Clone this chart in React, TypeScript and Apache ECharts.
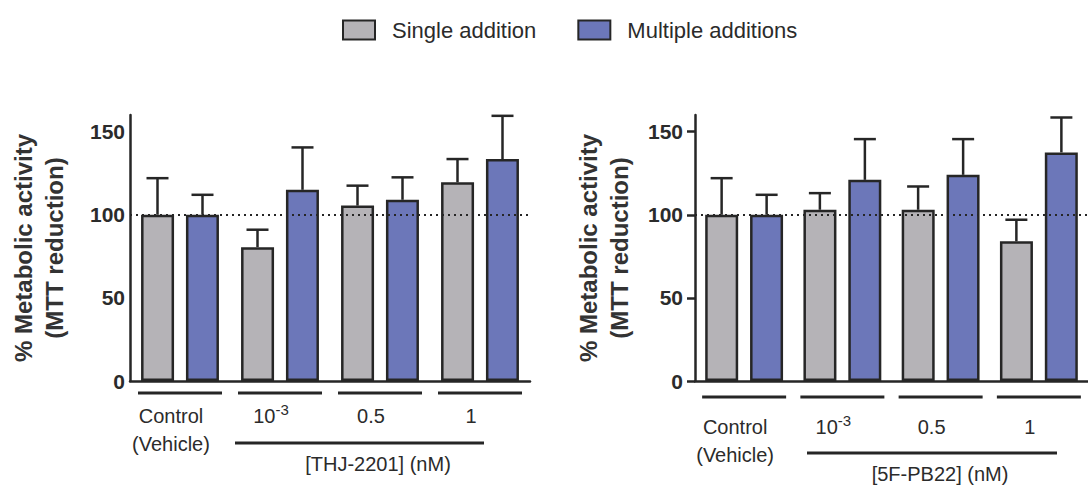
import React, { useEffect, useRef } from 'react';
import * as echarts from 'echarts';

const categories = ['Control\n(Vehicle)', '10^-3', '0.5', '1'];
const seriesNames = ['Single addition', 'Multiple additions'];
// THJ-2201 panel: bar means and upper ends of error bars
const thjSingle = [100, 80.5, 105.5, 119.5];
const thjSingleUpper = [122, 91, 117.5, 133.5];
const thjMultiple = [100, 115, 109, 133.5];
const thjMultipleUpper = [112, 140.5, 122.5, 159.5];
// 5F-PB22 panel
const pbSingle = [100, 103, 103, 84];
const pbSingleUpper = [122, 113, 117, 97];
const pbMultiple = [100, 121, 124, 137.5];
const pbMultipleUpper = [112, 145.5, 145.5, 158.5];
const yTicks = [0, 50, 100, 150];
const referenceLevel = 100;
const compoundLabels = ['[THJ-2201] (nM)', '[5F-PB22] (nM)'];
const yAxisTitle = '% Metabolic activity\n(MTT reduction)';

const FONT = '"Liberation Sans", Arial, Helvetica, sans-serif';
const DARK = '#262626';
const TEXT = '#2b2b2b';
const GRAY = '#b5b3b7';
const BLUE = '#6c77b9';
const BAR_OFFSET = 22.5;

function errorSeries(axisIdx: number, values: number[], upper: number[], offset: number) {
  return {
    type: 'custom',
    xAxisIndex: axisIdx,
    yAxisIndex: axisIdx,
    silent: true,
    z: 3,
    data: values.map((v, i) => [i, v, upper[i]]),
    encode: { x: 0, y: [1, 2] },
    renderItem: (_p: any, api: any) => {
      const base = api.coord([api.value(0), api.value(1)]);
      const top = api.coord([api.value(0), api.value(2)]);
      const x = base[0] + offset;
      const st = { stroke: DARK, lineWidth: 2.5 };
      return {
        type: 'group',
        children: [
          { type: 'line', shape: { x1: x, y1: base[1], x2: x, y2: top[1] }, style: st },
          { type: 'line', shape: { x1: x - 11, y1: top[1], x2: x + 11, y2: top[1] }, style: st },
        ],
      };
    },
  };
}

function underlineSeries(axisIdx: number, dy: number) {
  return {
    type: 'custom',
    xAxisIndex: axisIdx,
    yAxisIndex: axisIdx,
    silent: true,
    data: categories.map((_c, i) => [i, 0]),
    renderItem: (_p: any, api: any) => {
      const c = api.coord([api.value(0), 0]);
      return {
        type: 'line',
        shape: { x1: c[0] - 42, y1: c[1] + dy, x2: c[0] + 42, y2: c[1] + dy },
        style: { stroke: DARK, lineWidth: 3 },
      };
    },
  };
}

function barSeries(name: string, axisIdx: number, values: number[], color: string, withRef: boolean) {
  const s: any = {
    name,
    type: 'bar',
    xAxisIndex: axisIdx,
    yAxisIndex: axisIdx,
    barWidth: 33,
    barGap: '36%',
    data: values,
    itemStyle: { color, borderColor: DARK, borderWidth: 2.5 },
  };
  if (withRef) {
    s.markLine = {
      silent: true,
      symbol: ['none', 'none'],
      label: { show: false },
      lineStyle: { type: [2, 4], width: 2.2, color: DARK },
      data: [{ yAxis: referenceLevel }],
    };
  }
  return s;
}

function xAxis(idx: number, margin: number) {
  return {
    type: 'category',
    gridIndex: idx,
    data: categories,
    axisTick: { show: false },
    axisLine: { lineStyle: { color: DARK, width: 2.5 } },
    axisLabel: {
      interval: 0,
      margin,
      color: TEXT,
      fontSize: 20,
      lineHeight: 28,
      fontFamily: FONT,
      padding: [0, 18, 0, 0],
      formatter: (v: string) => (v === '10^-3' ? '{n|10}{s|-3}' : v),
      rich: {
        n: { fontSize: 20, lineHeight: 28, color: TEXT, fontFamily: FONT },
        s: { fontSize: 15, lineHeight: 28, color: TEXT, fontFamily: FONT, verticalAlign: 'top' },
      },
    },
  };
}

function yAxis(idx: number, showTicks: boolean, labelMargin: number) {
  return {
    type: 'value',
    gridIndex: idx,
    min: 0,
    max: 160,
    interval: 50,
    splitLine: { show: false },
    axisLine: { show: true, lineStyle: { color: DARK, width: 2.5 } },
    axisTick: { show: showTicks, length: 8, lineStyle: { width: 2.5, color: DARK }, customValues: yTicks },
    axisLabel: {
      customValues: yTicks,
      margin: labelMargin,
      color: TEXT,
      fontSize: 21,
      fontWeight: 'bold',
      fontFamily: FONT,
    },
    name: yAxisTitle,
    nameLocation: 'middle',
    nameGap: 60,
    nameTextStyle: { fontSize: 24, fontWeight: 'bold', lineHeight: 31, color: '#333', fontFamily: FONT },
  };
}

export default function App() {
  const ref = useRef<HTMLDivElement>(null);
  useEffect(() => {
    if (!ref.current) return;
    const chart = echarts.init(ref.current, undefined, { renderer: 'svg' });
    chart.setOption({
      animation: false,
      backgroundColor: '#ffffff',
      textStyle: { fontFamily: FONT },
      legend: {
        data: seriesNames,
        left: 337,
        top: 14,
        itemWidth: 32,
        itemHeight: 19,
        itemGap: 41,
        icon: 'rect',
        textStyle: { fontSize: 22, color: TEXT, fontFamily: FONT, padding: [0, 0, 0, 12] },
      },
      grid: [
        { left: 130, top: 115, bottom: 115, width: 400 },
        { left: 695, top: 115, bottom: 115, width: 400 },
      ],
      xAxis: [xAxis(0, 21), xAxis(1, 32)],
      yAxis: [yAxis(0, false, 5), yAxis(1, true, 12)],
      series: [
        barSeries(seriesNames[0], 0, thjSingle, GRAY, true),
        barSeries(seriesNames[1], 0, thjMultiple, BLUE, false),
        barSeries(seriesNames[0], 1, pbSingle, GRAY, true),
        barSeries(seriesNames[1], 1, pbMultiple, BLUE, false),
        errorSeries(0, thjSingle, thjSingleUpper, -BAR_OFFSET),
        errorSeries(0, thjMultiple, thjMultipleUpper, BAR_OFFSET),
        errorSeries(1, pbSingle, pbSingleUpper, -BAR_OFFSET),
        errorSeries(1, pbMultiple, pbMultipleUpper, BAR_OFFSET),
        underlineSeries(0, 12),
        underlineSeries(1, 16),
      ],
      graphic: [
        { type: 'line', shape: { x1: 235, y1: 443, x2: 484, y2: 443 }, style: { stroke: DARK, lineWidth: 3 } },
        { type: 'line', shape: { x1: 807, y1: 453, x2: 1057, y2: 453 }, style: { stroke: DARK, lineWidth: 3 } },
        {
          type: 'text', x: 378, y: 464,
          style: { text: compoundLabels[0], fill: TEXT, fontSize: 20, fontFamily: FONT, align: 'center', verticalAlign: 'middle' },
        },
        {
          type: 'text', x: 940, y: 474,
          style: { text: compoundLabels[1], fill: TEXT, fontSize: 20, fontFamily: FONT, align: 'center', verticalAlign: 'middle' },
        },
      ],
    });
    return () => chart.dispose();
  }, []);
  return <div ref={ref} style={{ position: 'absolute', left: 0, top: 0, width: 1088, height: 496 }} />;
}
